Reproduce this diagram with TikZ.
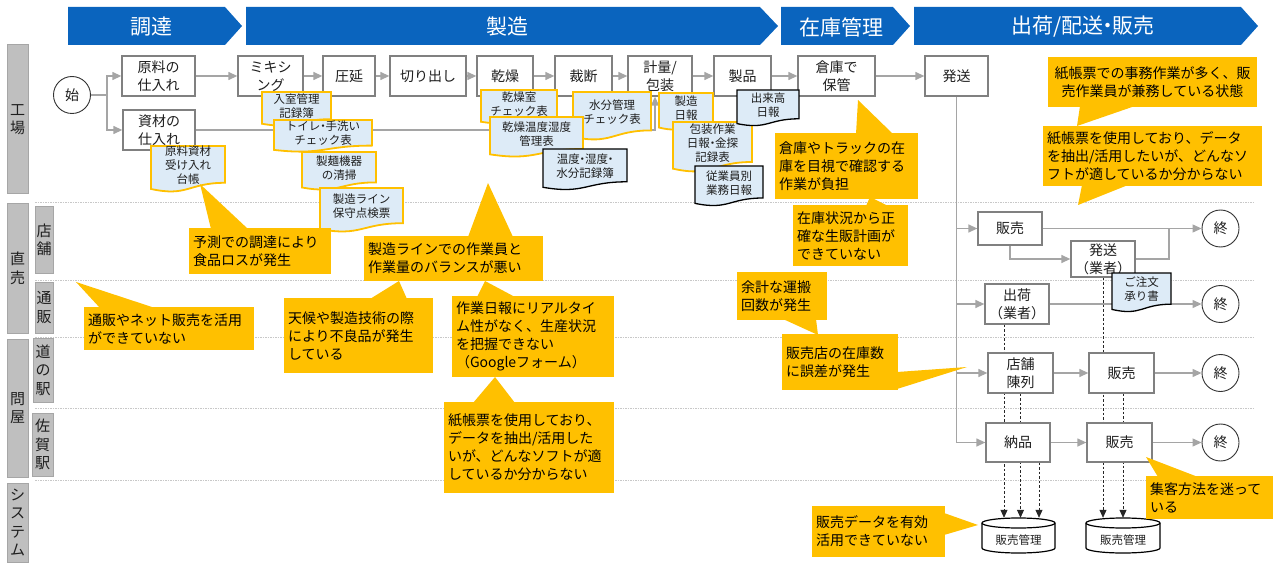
\documentclass[tikz,border=0pt]{standalone}
\usepackage{fontspec}
\setmainfont{Noto Sans CJK JP}
\usetikzlibrary{arrows.meta,calc,backgrounds}
\definecolor{hdrblue}{RGB}{10,100,190}
\definecolor{callorange}{RGB}{255,192,0}
\definecolor{docblue}{RGB}{221,235,247}
\definecolor{lblgray}{RGB}{191,191,191}
\definecolor{lblborder}{RGB}{166,166,166}
\definecolor{boxborder}{RGB}{128,128,128}
\definecolor{conngray}{RGB}{165,165,165}
\definecolor{sepgray}{RGB}{200,200,200}
\definecolor{txtdark}{RGB}{30,30,30}
\newcommand\nkg{\kern-0.28em・\kern-0.28em}
\newcommand\docnode[7]{%
  \pgfmathsetmacro\docH{#5-#3}%
  \pgfmathsetmacro\docM{(#2+#4)/2}%
  \path[fill=docblue,#6] (#2,#3) -- (#4,#3) -- (#4,#3+0.80*\docH) .. controls (\docM,#3+0.80*\docH) and (\docM,#3+1.11*\docH) .. (#2,#3+0.934*\docH) -- cycle;%
  \node[doctext] (#1) at (\docM,#3+0.42*\docH) {#7};%
}
\newcommand\callnode[7]{%
  \node[callout, text width=#4pt, minimum height=#5pt, #6] (#1) at (#2,#3) {#7};%
}
\tikzset{
  proc/.style={draw=boxborder, line width=1.3pt, fill=white, inner sep=0pt, align=center, font=\fontsize{14}{18}\selectfont, text=txtdark},
  endc/.style={circle, draw=black!80, line width=0.9pt, fill=white, minimum size=37pt, inner sep=0pt, font=\fontsize{14}{16}\selectfont, text=txtdark},
  conn/.style={draw=conngray, line width=1.3pt},
  arr/.style={conn, -{Triangle[length=9pt,width=8pt]}},
  darr/.style={draw=black!85, line width=0.8pt, dash pattern=on 2.5pt off 2pt, -{Triangle[length=8pt,width=7pt]}},
  lbl/.style={draw=lblborder, fill=lblgray, line width=1pt, inner sep=0pt, align=center, font=\fontsize{15}{18.5}\selectfont, text=txtdark},
  sepline/.style={draw=sepgray, line width=0.8pt, dash pattern=on 1.5pt off 1pt},
  callout/.style={fill=callorange, inner xsep=4pt, inner ysep=2pt, align=left, font=\fontsize{14}{18}\selectfont, text=black},
  doctext/.style={align=center, font=\fontsize{11.5}{14}\selectfont, inner sep=0pt, text=txtdark},
  hdr/.style={text=white, font=\fontsize{21}{24}\selectfont, inner sep=0pt},
  ptr/.style={fill=callorange},
  docor/.style={draw=callorange, line width=1.8pt},
  docbk/.style={draw=black, line width=1.3pt},
}
\begin{document}
\begin{tikzpicture}[x=1pt,y=-1pt]
\useasboundingbox (0,0) rectangle (1280,572);

% headers
\fill[hdrblue] (68,7) -- (225,7) -- (242,26) -- (225,45) -- (68,45) -- cycle;
\node[hdr] (h1) at (151,27) {調達};
\fill[hdrblue] (246,7) -- (760,7) -- (778,26) -- (760,45) -- (246,45) -- cycle;
\node[hdr] (h2) at (507,27) {製造};
\fill[hdrblue] (781,7) -- (893,7) -- (910,26) -- (893,45) -- (781,45) -- cycle;
\node[hdr] (h3) at (841,27) {在庫管理};
\fill[hdrblue] (914,7) -- (1241,7) -- (1258,26) -- (1241,45) -- (914,45) -- cycle;
\node[hdr] (h4) at (1083,27) {出荷/配送\nkg 販売};

% row labels
\node[lbl, minimum width=21pt, minimum height=149pt] (lkojo) at (17.5,119.5) {工\\場};
\node[lbl, minimum width=21pt, minimum height=129pt] (lchoku) at (17.5,268.5) {直\\売};
\node[lbl, minimum width=18pt, minimum height=66pt] (ltenpo) at (44,240) {店\\舗};
\node[lbl, minimum width=18pt, minimum height=51pt] (ltsuhan) at (44,307.5) {通\\販};
\node[lbl, minimum width=21pt, minimum height=138pt] (ltonya) at (17.5,408) {問\\屋};
\node[lbl, minimum width=20pt, minimum height=64pt] (lmichi) at (43,370) {道\\の\\駅};
\node[lbl, minimum width=21pt, minimum height=63pt] (lsaga) at (42.5,444.5) {佐\\賀\\駅};
\node[lbl, minimum width=21pt, minimum height=79pt] (lsys) at (17.5,522.5) {シ\\ス\\テ\\ム};

% process nodes
\node[endc] (hajime) at (72,95) {始};
\node[proc, minimum width=73pt, minimum height=40pt] (genryo) at (158.5,76) {原料の\\仕入れ};
\node[proc, minimum width=72pt, minimum height=40pt] (shizai) at (159,130) {資材の\\仕入れ};
\node[proc, minimum width=65pt, minimum height=40pt] (mixing) at (270.5,76) {ミキシ\\ング};
\node[proc, minimum width=52pt, minimum height=40pt] (atsuen) at (349,76) {圧延};
\node[proc, minimum width=76pt, minimum height=40pt] (kiri) at (428,76) {切り出し};
\node[proc, minimum width=56pt, minimum height=40pt] (kansou) at (505,76) {乾燥};
\node[proc, minimum width=57pt, minimum height=40pt] (saidan) at (583.5,76) {裁断};
\node[proc, minimum width=64pt, minimum height=40pt] (keiryo) at (660,76) {計量/\\包装};
\node[proc, minimum width=57pt, minimum height=40pt] (seihin) at (742.5,76) {製品};
\node[proc, minimum width=77pt, minimum height=40pt] (souko) at (836.5,76) {倉庫で\\保管};
\node[proc, minimum width=63pt, minimum height=40pt] (hassou) at (956.5,76) {発送};

\node[proc, minimum width=64pt, minimum height=33pt] (hanbai1) at (1010,228.5) {販売};
\node[proc, minimum width=64pt, minimum height=36pt] (hassou2) at (1103,259) {発送\\（業者）};
\node[proc, minimum width=64pt, minimum height=40pt] (shukka) at (1017,304) {出荷\\（業者）};
\node[proc, minimum width=65pt, minimum height=40pt] (tenpo) at (1020.5,373) {店舗\\陳列};
\node[proc, minimum width=65pt, minimum height=40pt] (hanbai2) at (1121.5,373) {販売};
\node[proc, minimum width=64pt, minimum height=39pt] (nouhin) at (1018,442.5) {納品};
\node[proc, minimum width=65pt, minimum height=39pt] (hanbai3) at (1119.5,442.5) {販売};

\node[endc] (owari1) at (1220.5,228.5) {終};
\node[endc] (owari2) at (1220.5,304) {終};
\node[endc] (owari3) at (1220.5,373) {終};
\node[endc] (owari4) at (1220.5,442.5) {終};

% cylinders
\node[minimum width=73pt, minimum height=35pt, inner sep=0pt] (cyl1) at (1018.5,535.5) {};
\node[minimum width=74pt, minimum height=35pt, inner sep=0pt] (cyl2) at (1123,535.5) {};
\draw[fill=white, line width=1.2pt] (982,523) -- (982,548) arc[start angle=180, end angle=360, x radius=36.5pt, y radius=5pt] -- (1055,523) arc[start angle=0, end angle=180, x radius=36.5pt, y radius=5pt] -- cycle;
\draw[line width=1.2pt] (982,523) arc[start angle=180, end angle=360, x radius=36.5pt, y radius=5pt];
\node[doctext, font=\fontsize{11.5}{14}\selectfont] (cyl1t) at (1018.5,540) {販売管理};
\draw[fill=white, line width=1.2pt] (1086,523) -- (1086,548) arc[start angle=180, end angle=360, x radius=37pt, y radius=5pt] -- (1160,523) arc[start angle=0, end angle=180, x radius=37pt, y radius=5pt] -- cycle;
\draw[line width=1.2pt] (1086,523) arc[start angle=180, end angle=360, x radius=37pt, y radius=5pt];
\node[doctext, font=\fontsize{11.5}{14}\selectfont] (cyl2t) at (1123,540) {販売管理};

% connectors on background
\begin{scope}[on background layer]
  \foreach \yy in {202,280,337,408,480} \draw[sepline] (35,\yy) -- (1255,\yy);
  \coordinate (j1) at (107,95);
  \draw[conn] (hajime.east) -- (j1);
  \draw[arr] (j1) |- (genryo.west);
  \draw[arr] (j1) |- (shizai.west);
  \draw[arr] (genryo.east) -- (mixing.west);
  \draw[arr] (mixing.east) -- (atsuen.west);
  \draw[arr] (atsuen.east) -- (kiri.west);
  \draw[arr] (kiri.east) -- (kansou.west);
  \draw[arr] (kansou.east) -- (saidan.west);
  \draw[arr] (saidan.east) -- (keiryo.west);
  \draw[arr] (keiryo.east) -- (seihin.west);
  \draw[arr] (seihin.east) -- (souko.west);
  \draw[arr] (souko.east) -- (hassou.west);
  \draw[arr] (shizai.east) -| ([xshift=-5pt]keiryo.south);
  \draw[arr] (hassou.south) |- (nouhin.west);
  \draw[arr] (hassou.south |- hanbai1.west) -- (hanbai1.west);
  \draw[arr] (hassou.south |- shukka.west) -- (shukka.west);
  \draw[arr] (hassou.south |- tenpo.west) -- (tenpo.west);
  \draw[arr] (hanbai1.east) -- (owari1.west);
  \draw[arr] (hanbai1.south) |- (hassou2.west);
  \coordinate (j2) at (1169,228.5);
  \draw[conn] (hassou2.east) -| (j2);
  \draw[arr] (shukka.east) -- (owari2.west);
  \draw[arr] (tenpo.east) -- (hanbai2.west);
  \draw[arr] (hanbai2.east) -- (owari3.west);
  \draw[arr] (nouhin.east) -- (hanbai3.west);
  \draw[arr] (hanbai3.east) -- (owari4.west);
  \coordinate (d1) at ([xshift=-13pt]shukka.south);
  \coordinate (d2) at (tenpo.south);
  \coordinate (d3) at ([xshift=21pt]nouhin.south);
  \coordinate (d4) at (hassou2.south);
  \coordinate (d5) at ([xshift=1.5pt]hanbai2.south);
  \draw[darr] (d1) -- (d1 |- cyl1.north);
  \draw[darr] (d2) -- (d2 |- cyl1.north);
  \draw[darr] (d3) -- (d3 |- cyl1.north);
  \draw[darr] (d4) -- (d4 |- cyl2.north);
  \draw[darr] (d5) -- (d5 |- cyl2.north);
\end{scope}

% documents
\docnode{dnyu}{262}{92}{331}{126}{docor}{入室管理\\記録簿}
\docnode{dtoilet}{274}{120}{372}{152}{docor}{トイレ\nkg 手洗い\\チェック表}
\docnode{dseimen}{302}{152}{376}{190}{docor}{製麺機器\\の清掃}
\docnode{dhoshu}{320}{188}{403}{232}{docor}{製造ライン\\保守点検票}
\docnode{dukeire}{151}{146}{225}{192}{docor}{原料資材\\受け入れ\\台帳}
\docnode{dkanshitsu}{481}{90}{557}{124}{docor}{乾燥室\\チェック表}
\docnode{dsuibun}{573}{92}{651}{140}{docor}{水分管理\\チェック表}
\docnode{dkanondo}{490}{117}{583}{157}{docor}{乾燥温度湿度\\管理表}
\docnode{dondo}{543}{149}{627}{190}{docbk}{温度\nkg 湿度\nkg\\水分記録簿}
\docnode{dseizou}{659}{93}{713}{130}{docor}{製造\\日報}
\docnode{dhousou}{673}{122}{752}{172}{docor}{包装作業\\日報\nkg 金探\\記録表}
\docnode{ddeki}{737}{90}{799}{126}{docbk}{出来高\\日報}
\docnode{djugyo}{695}{166}{763}{206}{docbk}{従業員別\\業務日報}
\docnode{dchumon}{1112}{273}{1171}{312}{docbk}{ご注文\\承り書}

% callout pointers
\fill[ptr] (856,134) -- (858,100) -- (893,134) -- cycle;
\fill[ptr] (1080,106) -- (1077,126) -- (1135,106) -- cycle;
\fill[ptr] (1082,185) -- (1078,205) -- (1128,185) -- cycle;
\fill[ptr] (211,229) -- (200,184) -- (248,229) -- cycle;
\fill[ptr] (100,308) -- (76,282) -- (155,308) -- cycle;
\fill[ptr] (468,237) -- (488,183) -- (513,237) -- cycle;
\fill[ptr] (370,299) -- (399,281) -- (407,299) -- cycle;
\fill[ptr] (477,297) -- (485,281) -- (515,297) -- cycle;
\fill[ptr] (473,403) -- (495,377) -- (515,403) -- cycle;
\fill[ptr] (866,206) -- (870,197) -- (888,206) -- cycle;
\fill[ptr] (783,319) -- (818,335) -- (816,319) -- cycle;
\fill[ptr] (897,372) -- (967,367) -- (897,389) -- cycle;
\fill[ptr] (944,513) -- (978,525) -- (944,535) -- cycle;
\fill[ptr] (1158,477) -- (1146,457) -- (1198,477) -- cycle;

% callouts
\callnode{c1}{846.5}{166}{135}{66}{}{倉庫やトラックの在\\庫を目視で確認する\\作業が負担}
\callnode{c2}{1152.5}{82}{201}{50}{align=center}{紙帳票での事務作業が多く、販\\売作業員が兼務している状態}
\callnode{c3}{1152.5}{156}{211}{60}{}{紙帳票を使用しており、データ\\を抽出/活用したいが、どんなソ\\フトが適しているか分からない}
\callnode{c4}{260}{251}{134}{46}{}{予測での調達により\\食品ロスが発生}
\callnode{c5}{169}{328.5}{162}{43}{}{通販やネット販売を活用\\ができていない}
\callnode{c6}{453.5}{258.5}{171}{45}{}{製造ラインでの作業員と\\作業量のバランスが悪い}
\callnode{c7}{358.5}{335.5}{141}{75}{}{天候や製造技術の際\\により不良品が発生\\している}
\callnode{c8}{533}{336.5}{154}{81}{}{作業日報にリアルタイ\\ム性がなく、生産状況\\を把握できない\\（Googleフォーム）}
\callnode{c9}{529}{447.5}{162}{91}{}{紙帳票を使用しており、\\データを抽出/活用した\\いが、どんなソフトが適\\しているか分からない}
\callnode{c10}{850.5}{235.5}{107}{61}{}{在庫状況から正\\確な生販計画が\\できていない}
\callnode{c11}{782}{296}{82}{48}{}{余計な運搬\\回数が発生}
\callnode{c12}{840}{362}{108}{56}{}{販売店の在庫数\\に誤差が発生}
\callnode{c13}{878.5}{531.5}{125}{51}{}{販売データを有効\\活用できていない}
\callnode{c14}{1209.5}{497.5}{119}{43}{}{集客方法を迷って\\いる}
\end{tikzpicture}
\end{document}
